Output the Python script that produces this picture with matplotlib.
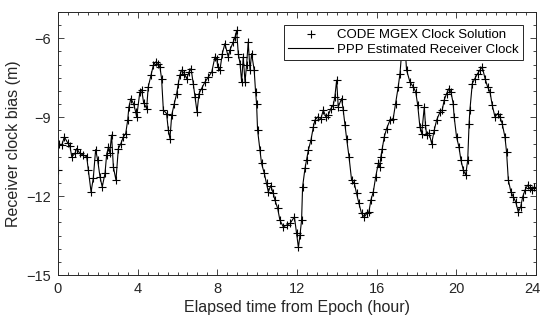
import numpy as np
import matplotlib
matplotlib.use('Agg')
import matplotlib.pyplot as plt
from matplotlib.ticker import MultipleLocator
from matplotlib.transforms import ScaledTranslation

plt.rcParams['font.family'] = ['Liberation Sans', 'DejaVu Sans']

# elapsed time (hour) and receiver clock bias (m)
hours = [0.00, 0.03, 0.19, 0.32, 0.49, 0.60, 0.69, 0.85, 0.94, 1.10, 1.27, 1.44,
         1.52, 1.66, 1.77, 1.89, 1.99, 2.11, 2.22, 2.36, 2.44, 2.53, 2.60, 2.69,
         2.78, 2.91, 3.03, 3.16, 3.28, 3.40, 3.50, 3.56, 3.66, 3.80, 3.90, 3.95,
         4.11, 4.20, 4.30, 4.45, 4.53, 4.67, 4.79, 4.90, 5.04, 5.12, 5.20, 5.29,
         5.45, 5.54, 5.62, 5.71, 5.84, 5.96, 6.04, 6.12, 6.21, 6.35, 6.46, 6.58,
         6.68, 6.79, 6.88, 6.98, 7.08, 7.21, 7.38, 7.55, 7.72, 7.88, 7.97, 8.02,
         8.13, 8.25, 8.38, 8.55, 8.63, 8.80, 8.89, 8.97, 9.05, 9.14, 9.22, 9.30,
         9.39, 9.47, 9.55, 9.64, 9.72, 9.85, 9.92, 9.97, 10.02, 10.14, 10.22, 10.36,
         10.47, 10.56, 10.68, 10.81, 10.89, 11.03, 11.14, 11.31, 11.48, 11.65, 11.87, 11.98,
         12.07, 12.15, 12.23, 12.28, 12.40, 12.48, 12.57, 12.70, 12.82, 12.90, 13.04, 13.20,
         13.32, 13.45, 13.57, 13.70, 13.82, 13.90, 13.99, 14.07, 14.24, 14.32, 14.41, 14.49,
         14.61, 14.74, 14.88, 14.99, 15.11, 15.24, 15.38, 15.50, 15.61, 15.71, 15.83, 15.95,
         16.08, 16.15, 16.21, 16.28, 16.38, 16.50, 16.67, 16.83, 16.95, 17.08, 17.17, 17.25,
         17.38, 17.50, 17.67, 17.84, 17.96, 18.06, 18.17, 18.26, 18.39, 18.45, 18.51, 18.63,
         18.76, 18.89, 19.01, 19.18, 19.29, 19.39, 19.51, 19.63, 19.73, 19.84, 19.89, 20.01,
         20.13, 20.23, 20.35, 20.47, 20.57, 20.64, 20.68, 20.80, 20.93, 21.07, 21.18, 21.30,
         21.44, 21.57, 21.69, 21.80, 21.94, 22.07, 22.19, 22.30, 22.44, 22.52, 22.61, 22.74,
         22.86, 22.98, 23.11, 23.23, 23.33, 23.45, 23.58, 23.69, 23.81, 23.91, 24.00]
clock = [-11.00, -10.00, -10.06, -9.75, -9.98, -10.10, -10.50, -10.38, -10.19, -10.38, -10.44, -10.50,
         -11.00, -11.84, -11.33, -10.23, -10.63, -11.27, -11.65, -11.14, -10.44, -10.13, -10.35, -9.68,
         -10.89, -11.39, -10.19, -10.00, -9.75, -9.62, -9.11, -8.61, -8.29, -8.50, -8.80, -8.99,
         -8.04, -7.95, -8.45, -8.67, -7.85, -7.40, -7.02, -6.90, -6.96, -7.10, -7.53, -8.73,
         -8.86, -9.49, -9.81, -8.92, -8.48, -8.10, -7.72, -7.40, -7.21, -7.35, -7.53, -7.28,
         -7.15, -7.72, -8.23, -8.80, -8.10, -7.91, -7.66, -7.47, -7.28, -6.71, -6.77, -7.09,
         -7.21, -6.58, -6.20, -6.71, -6.45, -6.14, -5.95, -5.70, -6.58, -6.96, -7.66, -6.71,
         -7.66, -7.00, -6.14, -7.21, -6.58, -7.21, -8.04, -8.48, -9.49, -10.25, -10.76, -11.14,
         -11.52, -11.84, -11.60, -11.90, -12.15, -12.47, -12.91, -13.17, -13.10, -13.04, -12.79, -13.42,
         -13.95, -13.48, -12.91, -11.65, -10.95, -10.63, -10.25, -9.87, -9.37, -9.11, -8.99, -9.05,
         -8.73, -8.99, -8.92, -8.67, -8.54, -8.23, -7.59, -8.61, -8.29, -8.73, -9.30, -9.81,
         -10.50, -11.39, -11.52, -11.90, -12.28, -12.66, -12.79, -12.66, -12.60, -12.15, -11.84, -11.27,
         -10.76, -10.90, -10.50, -10.19, -9.75, -9.43, -9.11, -9.05, -8.48, -7.85, -7.34, -6.58,
         -5.80, -7.21, -7.66, -7.85, -8.04, -8.54, -9.37, -9.62, -8.61, -9.30, -9.68, -9.60,
         -10.00, -9.49, -9.11, -8.80, -8.73, -8.35, -8.10, -7.91, -8.04, -8.48, -8.99, -9.75,
         -10.13, -10.63, -11.01, -11.20, -10.63, -9.24, -8.73, -7.72, -7.53, -7.34, -7.21, -7.09,
         -7.53, -7.85, -8.04, -8.54, -8.99, -8.86, -8.99, -9.24, -9.75, -10.32, -11.39, -11.84,
         -12.03, -12.22, -12.60, -12.41, -12.03, -11.77, -11.58, -11.71, -11.77, -11.65, -11.70]

fig = plt.figure(figsize=(5.41, 3.2), dpi=100)
ax = fig.add_axes([0.1072, 0.1406, 0.8836, 0.8219])

ax.plot(hours, clock, '+', color='k', markersize=6, markeredgewidth=0.8,
        label='CODE MGEX Clock Solution')
ax.plot(hours, clock, '-', color='k', linewidth=0.8,
        label='PPP Estimated Receiver Clock')

ax.set_xlim(0, 24)
ax.set_ylim(-15, -5)
ax.set_xticks([0, 4, 8, 12, 16, 20, 24])
ax.set_yticks([-15, -12, -9, -6])
ax.xaxis.set_minor_locator(MultipleLocator(0.5))
ax.yaxis.set_minor_locator(MultipleLocator(0.5))
ax.tick_params(which='both', direction='in', top=True, right=True,
               labelsize=10.5, colors='#262626', width=0.6, pad=5)
ax.tick_params(which='major', length=4)
ax.tick_params(which='minor', length=2.5)
for s in ax.spines.values():
    s.set_linewidth(0.7)
    s.set_color('#262626')

# keep the last x label inside the figure
last = ax.get_xticklabels()[-1]
last.set_transform(last.get_transform() + ScaledTranslation(-0.035, 0, fig.dpi_scale_trans))

ax.set_xlabel('Elapsed time from Epoch (hour)', fontsize=11.5, color='#262626', labelpad=3)
ax.set_ylabel('Receiver clock bias (m)', fontsize=11.5, color='#262626', labelpad=4)

leg = ax.legend(loc='upper right', fontsize=9.5, fancybox=False, framealpha=1,
                edgecolor='#262626', borderpad=0.3, handlelength=3.4, handletextpad=0.3,
                labelspacing=0.15, borderaxespad=1.0)
leg.get_frame().set_linewidth(0.7)
leg.set_zorder(5)

fig.savefig('out.png', dpi=100)
